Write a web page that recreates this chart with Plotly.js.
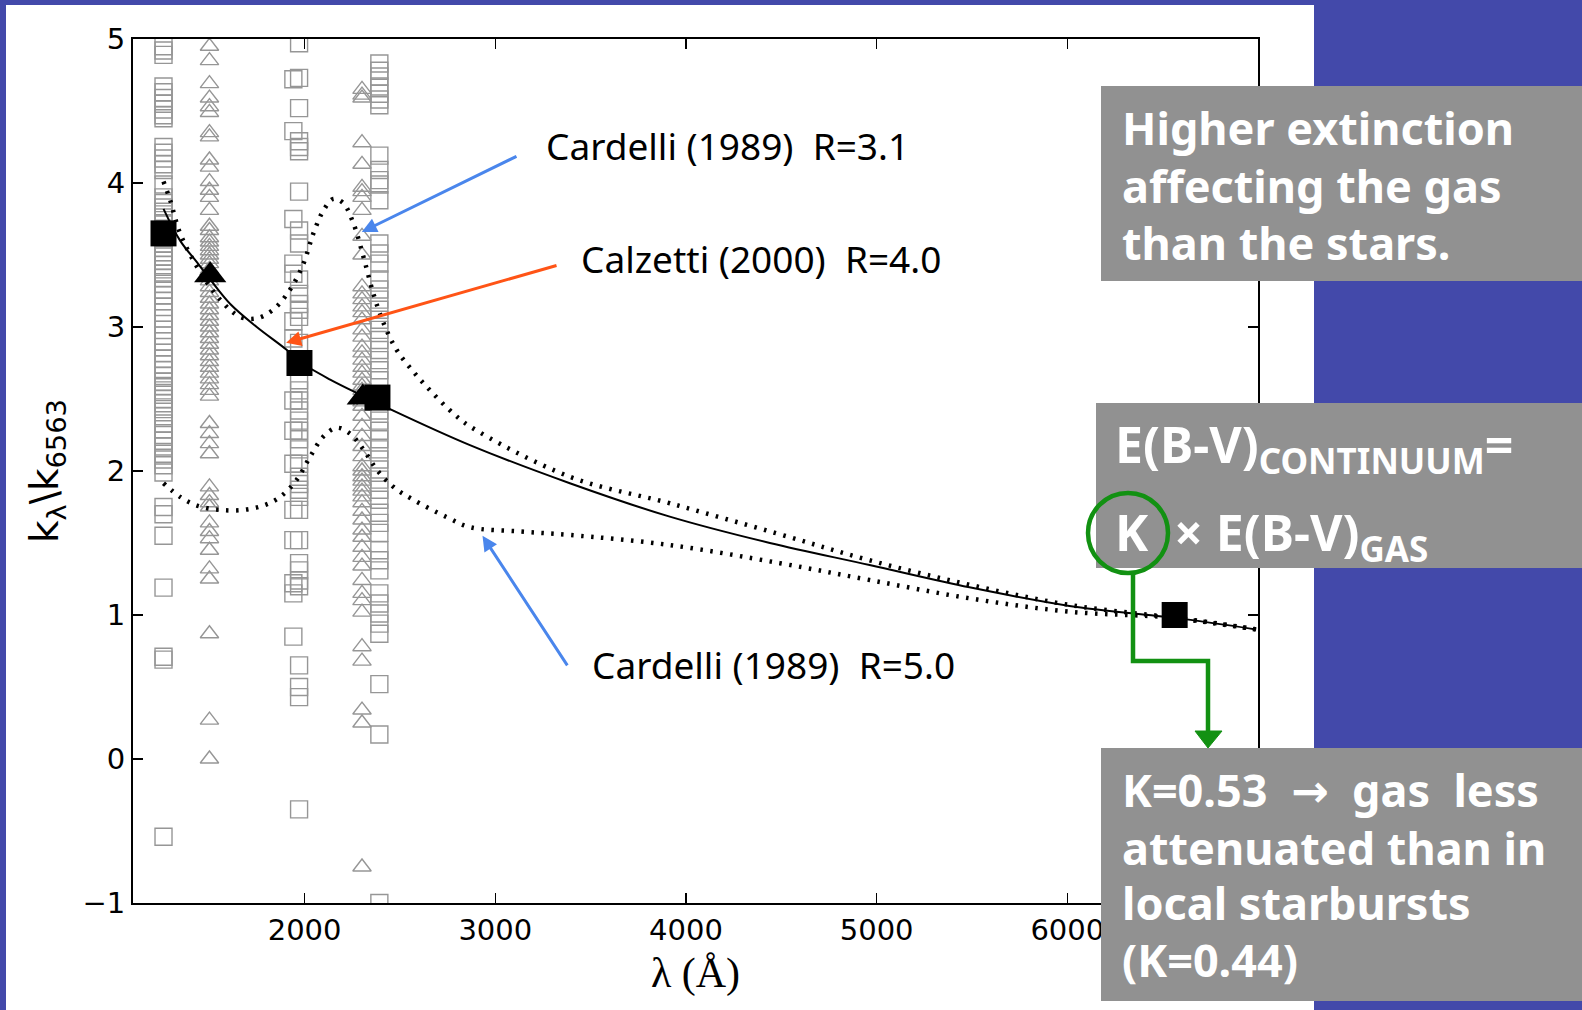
<!DOCTYPE html>
<html>
<head>
<meta charset="utf-8">
<script src="https://cdn.plot.ly/plotly-3.0.1.min.js"></script>
<style>html,body{margin:0;padding:0;background:#4349aa;}#chart{width:1582px;height:1010px;}</style>
</head>
<body>
<div id="chart"></div>
<script>
// ---------- data ----------
// gray open squares / triangles (individual galaxies), one wavelength per column
const colA_lam = 1260;   // squares
const colA_k = [4.95,4.92,4.89,4.67,4.63,4.59,4.55,4.51,4.47,4.45,4.25,4.21,4.17,4.13,4.09,3.99,
  3.90,3.86,3.83,3.80,3.76,3.72,3.68,3.62,3.58,3.55,3.52,3.49,3.46,3.43,3.40,3.37,3.34,3.30,3.26,3.22,3.18,3.14,
  3.10,3.06,3.02,2.98,2.94,2.90,2.86,2.82,2.78,2.74,2.70,2.66,2.62,2.59,2.56,2.53,2.50,2.47,2.43,2.38,2.33,2.29,
  2.25,2.21,2.17,2.12,2.08,2.04,1.99,1.75,1.70,1.55,1.19,0.71,0.69,-0.54];
const colB_lam = 1501;   // triangles
const colB_k = [4.95,4.85,4.69,4.59,4.53,4.49,4.35,4.32,4.16,4.11,4.01,3.95,3.90,3.81,3.70,3.67,3.62,3.59,3.56,
  3.53,3.50,3.47,3.44,3.40,3.36,3.32,3.28,3.24,3.20,3.16,3.12,3.08,3.04,3.00,2.96,2.92,2.88,2.84,2.80,2.76,2.72,
  2.68,2.64,2.60,2.56,2.52,2.33,2.26,2.19,2.12,1.89,1.83,1.78,1.75,1.64,1.58,1.53,1.45,1.32,1.25,0.87,0.27,0.0];
const colC1_lam = 1941;  // squares
const colC1_k = [4.72,4.36,3.75,3.44,3.37,3.04,2.92,2.49,2.28,2.05,1.73,1.52,1.22,1.15,0.85];
const colC2_lam = 1971;  // squares
const colC2_k = [4.97,4.73,4.52,4.29,4.25,4.22,3.94,3.67,3.58,3.33,3.23,3.16,3.12,3.07,2.89,2.63,2.56,2.49,2.42,
  2.35,2.28,2.22,2.15,2.05,1.96,1.91,1.87,1.82,1.73,1.52,1.36,1.31,1.24,1.20,0.65,0.50,0.43,-0.35];
const colD_lam = 2301;   // triangles
const colD_k = [4.65,4.61,4.59,4.28,4.13,3.97,3.94,3.90,3.81,3.63,3.50,3.28,3.23,3.19,3.14,3.10,3.05,2.98,2.93,
  2.86,2.82,2.77,2.72,2.68,2.63,2.59,2.56,2.52,2.48,2.45,2.38,2.31,2.24,2.17,2.10,2.03,2.00,1.96,1.93,1.89,1.86,
  1.82,1.78,1.72,1.66,1.59,1.54,1.47,1.40,1.34,1.24,1.15,1.10,1.02,0.78,0.68,0.34,0.25,-0.75];
const colE_lam = 2392;   // squares
const colE_k = [4.83,4.78,4.74,4.67,4.62,4.58,4.54,4.19,4.09,4.02,3.99,3.88,3.58,3.51,3.44,3.33,3.26,3.19,3.12,
  3.05,2.98,2.91,2.84,2.77,2.70,2.63,2.42,2.35,2.28,2.22,2.15,2.08,2.01,1.94,1.87,1.80,1.71,1.64,1.57,1.45,1.38,
  1.31,1.15,1.08,1.01,0.94,0.87,0.52,0.17,-1.0];

// mean values (big black markers)
const meanSqLam = [1260, 1973, 2382, 6563];
const meanSqK   = [3.65, 2.75, 2.51, 1.00];
const meanTriLam = [1505, 2305];
const meanTriK   = [3.36, 2.51];

// curves
const calzLam = [1260,1347,1435,1505,1610,1749,1907,1973,2134,2308,2448,2867,3391,3915,4440,4963,5487,6011,6563,6990];
const calzK   = [3.82,3.60,3.45,3.33,3.16,3.00,2.84,2.76,2.635,2.52,2.43,2.18,1.915,1.683,1.50,1.347,1.192,1.063,0.98,0.90];
const card31Lam = [1260,1295,1347,1435,1557,1662,1749,1835,1924,1994,2046,2099,2151,2203,2256,2308,2361,2413,2483,2570,2658,2763,2867,3391,3915,4475,4963,5487,6011,6563,6990];
const card31K   = [4.01,3.88,3.65,3.42,3.19,3.07,3.06,3.12,3.26,3.44,3.65,3.81,3.89,3.86,3.72,3.49,3.23,3.03,2.84,2.69,2.56,2.42,2.31,1.96,1.776,1.567,1.38,1.21,1.07,0.98,0.90];
const card50Lam = [1260,1347,1435,1557,1679,1784,1872,1959,2029,2099,2169,2238,2308,2378,2465,2570,2745,2867,3130,3391,3915,4492,4963,5487,6011,6563,6990];
const card50K   = [1.915,1.82,1.76,1.73,1.73,1.76,1.82,1.94,2.10,2.24,2.30,2.26,2.15,2.01,1.89,1.80,1.68,1.61,1.58,1.556,1.486,1.36,1.243,1.116,1.023,0.98,0.90];

// pointer arrows: [tail lambda, tail k, head lambda, head k]
const arrowBlueTop = [3119, 4.19, 2300, 3.66];
const arrowOrange  = [3329, 3.43, 1903, 2.89];
const arrowBlueBot = [3383, 0.64, 2933, 1.55];

const xTicks = [2000, 3000, 4000, 5000, 6000];
const yTicks = [-1, 0, 1, 2, 3, 4, 5];

const curveLabels = ['Cardelli (1989)\u00a0 R=3.1', 'Calzetti (2000)\u00a0 R=4.0', 'Cardelli (1989)\u00a0 R=5.0'];
const boxTopLines = ['Higher extinction', 'affecting the gas', 'than the stars.'];
const boxMidLines = ['E(B-V)<sub>CONTINUUM</sub>=', 'K\u00a0 \u00d7 E(B-V)<sub>GAS</sub>'];
const boxBotLines = ['K=0.53\u00a0 <span style="font-family:DejaVu Sans">\u2192</span>\u00a0 gas\u00a0 less', 'attenuated than in', 'local starbursts', '(K=0.44)'];

// ---------- build traces ----------
const gray = 'rgb(150,150,150)';
function col(lam, ks){ return ks.map(() => lam); }
const sqX = [].concat(col(colA_lam,colA_k), col(colC1_lam,colC1_k), col(colC2_lam,colC2_k), col(colE_lam,colE_k));
const sqY = [].concat(colA_k, colC1_k, colC2_k, colE_k);
const trX = [].concat(col(colB_lam,colB_k), col(colD_lam,colD_k));
const trY = [].concat(colB_k, colD_k);

const traces = [
  {x: sqX, y: sqY, type:'scatter', mode:'markers', hoverinfo:'skip',
   marker:{symbol:'square-open', size:17, color:gray, line:{width:1.4, color:gray}}},
  {x: trX, y: trY, type:'scatter', mode:'markers', hoverinfo:'skip',
   marker:{symbol:'triangle-up-open', size:16, color:gray, line:{width:1.4, color:gray}}},
  {x: card31Lam, y: card31K, type:'scatter', mode:'lines',
   line:{color:'black', width:4.5, dash:'2.5px,7.5px', shape:'spline', smoothing:1}},
  {x: card50Lam, y: card50K, type:'scatter', mode:'lines',
   line:{color:'black', width:4.5, dash:'2.5px,7.5px', shape:'spline', smoothing:1}},
  {x: calzLam, y: calzK, type:'scatter', mode:'lines',
   line:{color:'black', width:2, shape:'spline', smoothing:1}},
  {x: meanSqLam, y: meanSqK, type:'scatter', mode:'markers',
   marker:{symbol:'square', size:26, color:'black'}},
  {x: meanTriLam, y: meanTriK, type:'scatter', mode:'markers',
   marker:{symbol:'triangle-up', size:28, color:'black'}}
];

// ---------- layout ----------
const L = 133, R = 1258, T = 39, B = 903;
const px = v => (v - L) / (R - L);
const py = v => (B - v) / (B - T);

const green = '#129112';
const boxGray = 'rgb(145,145,145)';

const shapes = [
  {type:'rect', xref:'paper', yref:'paper', x0:px(6), x1:px(1314), y0:py(1015), y1:py(5), layer:'below',
   fillcolor:'white', line:{width:0}},
  {type:'rect', xref:'paper', yref:'paper', x0:px(1101), x1:px(1590), y0:py(281), y1:py(86), layer:'above',
   fillcolor:boxGray, line:{width:0}},
  {type:'rect', xref:'paper', yref:'paper', x0:px(1096), x1:px(1590), y0:py(568), y1:py(403), layer:'above',
   fillcolor:boxGray, line:{width:0}},
  {type:'rect', xref:'paper', yref:'paper', x0:px(1101), x1:px(1590), y0:py(1001), y1:py(748), layer:'above',
   fillcolor:boxGray, line:{width:0}},
  {type:'circle', xref:'paper', yref:'paper', x0:px(1088), x1:px(1168), y0:py(573), y1:py(493), layer:'above',
   line:{color:green, width:4.5}},
  {type:'path', xref:'paper', yref:'paper', layer:'above', line:{color:green, width:4.5},
   path:`M${px(1133)},${py(573)} L${px(1133)},${py(661)} L${px(1208)},${py(661)} L${px(1208)},${py(734)}`},
  {type:'path', xref:'paper', yref:'paper', layer:'above', line:{color:green, width:1}, fillcolor:green,
   path:`M${px(1195)},${py(731)} L${px(1222)},${py(731)} L${px(1208)},${py(748)} Z`}
];

const annotations = [];
const labelFont = {family:'Noto Sans, sans-serif', size:37, color:'black'};
[[544, 145], [579, 258], [590, 664]].forEach((p, i) => {
  annotations.push({xref:'paper', yref:'paper', x:px(p[0]), y:py(p[1]), xanchor:'left', yanchor:'middle',
    text:curveLabels[i], showarrow:false, font:labelFont});
});
[[arrowBlueTop, '#4a86ec'], [arrowOrange, '#ff5416'], [arrowBlueBot, '#4a86ec']].forEach(([a, c]) =>
  annotations.push({x:a[2], y:a[3], ax:a[0], ay:a[1], xref:'x', yref:'y', axref:'x', ayref:'y',
    text:'', showarrow:true, arrowhead:2, arrowsize:1, arrowwidth:3, arrowcolor:c, standoff:0, startstandoff:0}));

const boxFont = {family:'Noto Sans, sans-serif', size:45, color:'white'};
[127.5, 185.5, 242.5].forEach((yy, i) => annotations.push({xref:'paper', yref:'paper', x:px(1120), y:py(yy),
  xanchor:'left', yanchor:'middle', text:'<b>' + boxTopLines[i] + '</b>', showarrow:false, font:boxFont}));
[447, 535].forEach((yy, i) => annotations.push({xref:'paper', yref:'paper', x:px(1113), y:py(yy),
  xanchor:'left', yanchor:'middle', text:'<b>' + boxMidLines[i] + '</b>', showarrow:false,
  font:{family:'Noto Sans, sans-serif', size:50, color:'white'}}));
[789, 847.5, 902.5, 959].forEach((yy, i) => annotations.push({xref:'paper', yref:'paper', x:px(1120), y:py(yy),
  xanchor:'left', yanchor:'middle', text:'<b>' + boxBotLines[i] + '</b>', showarrow:false, font:boxFont}));

const axisCommon = {
  showline:true, linewidth:2, linecolor:'black', mirror:'ticks', showgrid:false, zeroline:false,
  ticks:'inside', ticklen:10, tickwidth:1.5, tickcolor:'black',
  tickfont:{family:'DejaVu Sans, sans-serif', size:29, color:'black'}
};

const layout = {
  width:1582, height:1010, autosize:false,
  margin:{l:L, r:1582-R, t:T, b:1010-B, pad:0},
  paper_bgcolor:'#4349aa', plot_bgcolor:'rgba(0,0,0,0)',
  showlegend:false,
  xaxis:Object.assign({}, axisCommon, {range:[1100, 7000], tickvals:xTicks, ticktext:xTicks.map(String),
    title:{text:'\u03bb (\u00c5)', font:{family:'Liberation Serif, serif', size:42, color:'black'}, standoff:12}}),
  yaxis:Object.assign({}, axisCommon, {range:[-1, 5], tickvals:yTicks, ticktext:yTicks.map(v => v < 0 ? '\u2212' + Math.abs(v) : String(v)),
    title:{text:'k<sub>\u03bb</sub>\\k<sub>6563</sub>', font:{family:'DejaVu Sans, sans-serif', size:39, color:'black'}, standoff:12}}),
  shapes:shapes, annotations:annotations
};

Plotly.newPlot('chart', traces, layout, {displayModeBar:false, staticPlot:true});
</script>
</body>
</html>
